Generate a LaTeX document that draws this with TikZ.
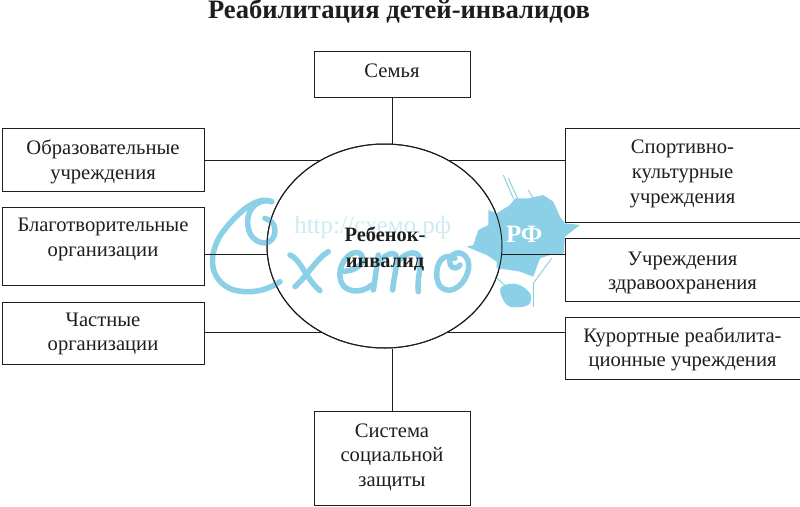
\documentclass[tikz,border=0pt]{standalone}
\usepackage{fontspec}
\usetikzlibrary{shapes.geometric}
\setmainfont{Liberation Serif}
\definecolor{ink}{HTML}{1E1E1E}
\definecolor{wm}{HTML}{8CD0E8}
\definecolor{wmpale}{HTML}{CDEBF3}
\tikzset{
  x=1pt,y=-1pt,
  box/.style={draw=ink,line width=1pt,fill=white,inner sep=0pt,minimum width=#1},
  boxtext/.style={align=center,text=ink,font=\fontsize{20.6}{24.6}\selectfont,inner sep=0pt},
  link/.style={draw=ink,line width=1pt},
  wmstroke/.style={draw=wm,line width=5.5pt,line cap=round,line join=round}
}
% name, x, y, w, h, text-centre y, text
\newcommand{\bx}[7]{\node[box=#4pt,minimum height=#5pt] (#1) at (#2+#4/2,#3+#5/2) {};
  \node[boxtext] (#1t) at (#2+#4/2,#6) {#7};}
\begin{document}
\begin{tikzpicture}
\useasboundingbox (0,0) rectangle (800,506);
\fill[white] (0,0) rectangle (800,506);
\node[font=\bfseries\fontsize{26.6}{30}\selectfont,text=ink,inner sep=0pt] (title) at (399,11.5) {Реабилитация детей-инвалидов};
\node[draw=ink,line width=1pt,fill=white,ellipse,minimum width=235pt,minimum height=204pt,inner sep=0pt] (hub) at (384.5,246) {};
% watermark
\begin{scope}[shift={(200,130)},x=0.3333pt,y=-0.3333pt]
\fill[wm] (820,345)--(835,300)--(865,285)--(865,240)--(890,250)--(930,225)--(945,205)--(985,205)--(1030,195)--(1060,215)--(1080,260)--(1095,280)--(1140,285)--(1095,320)--(1090,375)--(1050,375)--(1020,385)--(1000,440)--(960,425)--(930,420)--(890,415)--(890,395)--(860,375)--(835,365)--(800,350)--cycle;
\fill[wm] plot[smooth cycle,tension=0.6] coordinates {(905,470)(950,462)(990,490)(985,525)(930,530)(905,500)};
\draw[wm,line width=1pt] (910,135)--(940,205) (925,145)--(955,210) (985,180)--(1000,205) (1055,385)--(1000,460)--(1000,530) (1090,365)--(1125,372) (885,440)--(920,470);
\draw[wmstroke] (215,215) .. controls (170,195) and (110,250) .. (65,310) .. controls (20,380) and (30,450) .. (95,478) .. controls (150,495) and (205,480) .. (240,455);
\draw[wmstroke] (215,215) .. controls (170,200) and (125,250) .. (150,310) .. controls (170,350) and (225,350) .. (225,300) .. controls (225,280) and (210,270) .. (195,265);
\draw[wmstroke] (270,375) .. controls (300,385) and (320,450) .. (360,482);
\draw[wmstroke] (385,365) .. controls (350,385) and (320,440) .. (285,470);
\draw[wmstroke] (420,425) .. controls (460,425) and (500,405) .. (485,375) .. controls (465,350) and (415,390) .. (420,440) .. controls (425,495) and (490,490) .. (515,465);
\draw[wmstroke] (535,375) .. controls (530,410) and (525,450) .. (520,480);
\draw[wmstroke] (535,400) .. controls (555,370) and (590,360) .. (590,385) .. controls (590,420) and (580,450) .. (578,480);
\draw[wmstroke] (590,400) .. controls (610,370) and (650,355) .. (660,385) .. controls (665,410) and (650,450) .. (655,485);
\draw[wmstroke] (765,385) .. controls (720,360) and (700,420) .. (715,460) .. controls (735,500) and (790,480) .. (805,420) .. controls (815,375) and (770,350) .. (750,385) .. controls (745,410) and (765,425) .. (780,405);
\node[text=wmpale,font=\fontsize{25}{28}\selectfont,inner sep=0pt] (url) at (518,292) {http://схемо.рф};
\node[text=white,font=\bfseries\fontsize{25}{26}\selectfont,inner sep=0pt] (rf) at (973,312) {РФ};
\end{scope}
\bx{fam}{314}{51}{156}{46}{71}{Семья}
\bx{edu}{2}{128}{202}{63}{162}{Образовательные\\учреждения}
\bx{cha}{2}{207}{202}{78}{239.5}{Благотворительные\\организации}
\bx{pri}{2}{302}{202}{62}{334}{Частные\\организации}
\bx{spo}{565}{128}{235}{94}{174}{Спортивно-\\культурные\\учреждения}
\bx{hea}{565}{238}{235}{63}{273}{Учреждения\\здравоохранения}
\bx{res}{565}{317}{235}{62}{349.5}{Курортные реабилита-\\ционные учреждения}
\bx{soc}{314}{411}{156}{94}{457}{Система\\социальной\\защиты}
\coordinate (eT) at (fam.south |- hub.north);
\coordinate (eB) at (soc.north |- hub.south);
\coordinate (a1) at (321,160);
\coordinate (a2) at (267.5,254);
\coordinate (a3) at (321,332);
\coordinate (b1) at (448,160);
\coordinate (b2) at (501.5,254);
\coordinate (b3) at (448,332);
\draw[link] (fam.south) -- (eT);
\draw[link] (soc.north) -- (eB);
\draw[link] (edu.east |- a1) -- (a1);
\draw[link] (cha.east |- a2) -- (a2);
\draw[link] (pri.east |- a3) -- (a3);
\draw[link] (spo.west |- b1) -- (b1);
\draw[link] (hea.west |- b2) -- (b2);
\draw[link] (res.west |- b3) -- (b3);
\draw[ink,line width=1pt] (hub.center) ellipse [x radius=117.5,y radius=102];
\node[text=ink,font=\bfseries\fontsize{20.4}{26}\selectfont,align=center,inner sep=0pt] (child) at (385,249) {Ребенок-\\инвалид};
\end{tikzpicture}
\end{document}
